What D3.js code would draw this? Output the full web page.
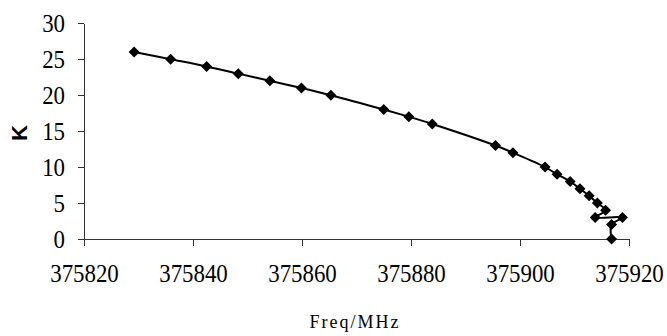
<!DOCTYPE html>
<html>
<head>
<meta charset="utf-8">
<script src="https://cdn.jsdelivr.net/npm/d3@7"></script>
<style>
  body { margin: 0; background: #fff; }
  svg { display: block; }
</style>
</head>
<body>
<svg width="667" height="336"></svg>
<script>
// frequency (MHz) and K
var freq = [375829.2, 375835.9, 375842.5, 375848.3, 375854.1, 375859.9, 375865.3,
  375875.0, 375879.6, 375883.9, 375895.5, 375898.7, 375904.6, 375906.8, 375909.2,
  375911.0, 375912.7, 375914.2, 375915.7, 375913.8, 375918.8, 375916.8, 375916.8]
var kVals = [26, 25, 24, 23, 22, 21, 20, 18, 17, 16, 13, 12, 10, 9, 8, 7, 6, 5, 4, 3, 3, 2, 0]
var xTicks = [375820, 375840, 375860, 375880, 375900, 375920]
var yTicks = [0, 5, 10, 15, 20, 25, 30]

var serif = "'Liberation Serif', 'Times New Roman', Times, serif"
var squeeze = 0.88   // tick labels look narrow and tall
var svg = d3.select('svg')

var x = d3.scaleLinear().domain([375820, 375920]).range([84, 629])
var y = d3.scaleLinear().domain([0, 30]).range([239, 23.3])

var points = freq.map(function (f, i) { return { f: f, k: kVals[i] } })

function styleAxis (g) {
  g.attr('font-family', serif)
  g.selectAll('path, line').attr('stroke', '#333').attr('shape-rendering', 'crispEdges')
  g.selectAll('text').attr('fill', '#000').attr('font-size', 26)
    .attr('transform', 'scale(' + squeeze + ',1)')
}

svg.append('g')
  .attr('transform', 'translate(84,0)')
  .call(d3.axisLeft(y).tickValues(yTicks).tickSize(6).tickSizeOuter(0).tickPadding(13))
  .call(styleAxis)
  .selectAll('text').attr('x', -19 / squeeze)

svg.append('g')
  .attr('transform', 'translate(0,239)')
  .call(d3.axisBottom(x).tickValues(xTicks).tickFormat(d3.format('d')).tickSize(7).tickSizeOuter(0).tickPadding(18))
  .call(styleAxis)

var line = d3.line()
  .x(function (d) { return x(d.f) })
  .y(function (d) { return y(d.k) })
  .curve(d3.curveCatmullRom.alpha(0.5))

svg.append('path')
  .datum(points)
  .attr('fill', 'none')
  .attr('stroke', '#000')
  .attr('stroke-width', 2)
  .attr('d', line)

svg.append('g').selectAll('path')
  .data(points)
  .enter().append('path')
  .attr('transform', function (d) { return 'translate(' + x(d.f) + ',' + y(d.k) + ')' })
  .attr('d', 'M0,-5.5L5.5,0L0,5.5L-5.5,0Z')
  .attr('fill', '#000')

svg.append('text')
  .attr('transform', 'translate(27,133) rotate(-90)')
  .attr('text-anchor', 'middle')
  .style('font-family', "'Liberation Sans', Arial, sans-serif")
  .style('font-weight', 'bold')
  .style('font-size', '22px')
  .text('K')

svg.append('text')
  .attr('x', 355)
  .attr('y', 328)
  .attr('text-anchor', 'middle')
  .style('font-family', serif)
  .style('font-size', '18px')
  .style('letter-spacing', '2px')
  .text('Freq/MHz')
</script>
</body>
</html>
